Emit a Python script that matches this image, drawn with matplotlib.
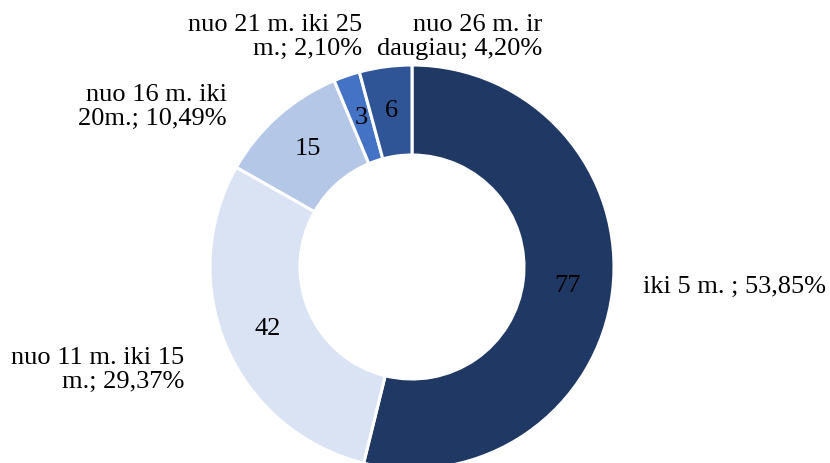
#!/usr/bin/env python3
# -*- coding: utf-8 -*-
import matplotlib
matplotlib.use("Agg")
import matplotlib.pyplot as plt

categories = ["iki 5 m. ", "nuo 11 m. iki 15 m.", "nuo 16 m. iki 20m.",
              "nuo 21 m. iki 25 m.", "nuo 26 m. ir daugiau"]
counts = [77, 42, 15, 3, 6]
label_texts = ["iki 5 m. ; 53,85%", "nuo 11 m. iki 15\nm.; 29,37%",
               "nuo 16 m. iki\n20m.; 10,49%", "nuo 21 m. iki 25\nm.; 2,10%",
               "nuo 26 m. ir\ndaugiau; 4,20%"]
colors = ["#203864", "#DAE3F3", "#B4C7E7", "#4472C4", "#2F5597"]

plt.rcParams['font.family'] = ['Liberation Serif', 'DejaVu Serif']

W, H = 830, 463
fig = plt.figure(figsize=(W / 100, H / 100), dpi=100)
ax = fig.add_axes([0, 0, 1, 1])

cx, cy = 412, H - 267
R = 202
ring = 90

ax.pie(counts, radius=R, center=(cx, cy), startangle=90, counterclock=False,
       colors=colors, autopct=lambda p: f"{round(p * sum(counts) / 100):d}",
       pctdistance=(R - ring / 2) / R,
       wedgeprops=dict(width=ring, edgecolor="white", linewidth=2.2),
       textprops=dict(fontsize=19, color="black"))

# outer labels (x, y in pixels from top-left, alignment)
label_pos = [(643, 287, "left"), (184, 370, "right"), (227, 107, "right"),
             (362, 37, "right"), (542, 37, "right")]
for txt, (x, y, ha) in zip(label_texts, label_pos):
    ax.text(x, H - y, txt, ha=ha, va="center", fontsize=19,
            multialignment=ha, linespacing=1.1)

ax.set_xlim(0, W)
ax.set_ylim(0, H)
ax.set_aspect("equal")
ax.axis("off")

fig.savefig("out.png", dpi=100)
